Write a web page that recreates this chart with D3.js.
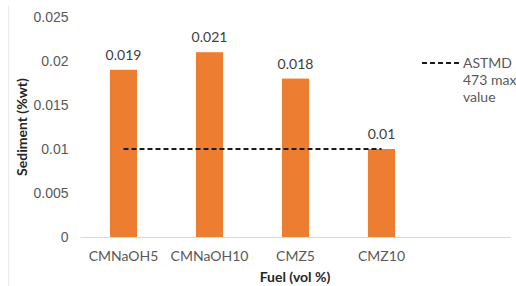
<!DOCTYPE html>
<html>
<head>
<meta charset="utf-8">
<script src="https://cdn.jsdelivr.net/npm/d3@7"></script>
<style>
body { margin: 0; background: #fff; }
svg { font-family: Lato, "Open Sans", sans-serif; }
</style>
</head>
<body>
<div id="chart"></div>
<script>
var categories = ["CMNaOH5", "CMNaOH10", "CMZ5", "CMZ10"];
var sediment = [0.019, 0.021, 0.018, 0.01];
var astmLimit = [0.01, 0.01, 0.01, 0.01];
var yTicks = [0, 0.005, 0.01, 0.015, 0.02, 0.025];

var width = 516, height = 286;
var plotLeft = 80.5, plotRight = 510.5, plotTop = 17, plotBottom = 237;
var fontSize = "14px";

var svg = d3.select("#chart").append("svg")
	.attr("width", width)
	.attr("height", height);

// faint chart border on the left
svg.append("line")
	.attr("x1", 8.5).attr("x2", 8.5)
	.attr("y1", 6).attr("y2", height)
	.attr("stroke", "#ececec");

// 5 slots on the category axis, last one is empty
var x = d3.scaleBand()
	.domain(categories.concat([""]))
	.range([plotLeft, plotRight])
	.paddingInner(0.685)
	.paddingOuter(0.3425);

var y = d3.scaleLinear().domain([0, 0.025]).range([plotBottom, plotTop]);

var yAxis = d3.axisLeft(y).tickValues(yTicks).tickSize(0).tickPadding(12)
	.tickFormat(function(d){ return d === 0 ? "0" : String(+d.toFixed(3)); });
var gy = svg.append("g").attr("transform", "translate(" + plotLeft + ",0)").call(yAxis);
gy.select(".domain").remove();
gy.selectAll("text").attr("fill", "#595959").style("font-size", fontSize).style("font-family", null);

svg.selectAll(".bar")
	.data(sediment)
	.enter().append("rect")
	.attr("class", "bar")
	.attr("x", function(d, i){ return x(categories[i]); })
	.attr("width", x.bandwidth())
	.attr("y", function(d){ return y(d); })
	.attr("height", function(d){ return plotBottom - y(d); })
	.attr("fill", "#ED7D31");

svg.selectAll(".val")
	.data(sediment)
	.enter().append("text")
	.attr("x", function(d, i){ return x(categories[i]) + x.bandwidth() / 2; })
	.attr("y", function(d){ return y(d) - 10; })
	.attr("text-anchor", "middle")
	.attr("fill", "#404040")
	.style("font-size", fontSize)
	.text(function(d){ return d; });

// category axis
svg.append("line")
	.attr("x1", plotLeft).attr("x2", plotRight)
	.attr("y1", plotBottom + 0.5).attr("y2", plotBottom + 0.5)
	.attr("stroke", "#d9d9d9");

svg.selectAll(".cat")
	.data(categories)
	.enter().append("text")
	.attr("x", function(d){ return x(d) + x.bandwidth() / 2; })
	.attr("y", 261)
	.attr("text-anchor", "middle")
	.attr("fill", "#595959")
	.style("font-size", fontSize)
	.text(function(d){ return d; });

// ASTM limit line
var line = d3.line()
	.x(function(d, i){ return x(categories[i]) + x.bandwidth() / 2; })
	.y(function(d){ return y(d); });

svg.append("path")
	.datum(astmLimit)
	.attr("d", line)
	.attr("fill", "none")
	.attr("stroke", "#1a1a1a")
	.attr("stroke-width", 2)
	.attr("stroke-dasharray", "5,3");

// legend
svg.append("line")
	.attr("x1", 422).attr("x2", 460)
	.attr("y1", 63).attr("y2", 63)
	.attr("stroke", "#1a1a1a")
	.attr("stroke-width", 2)
	.attr("stroke-dasharray", "5,3");

var legText = svg.append("text")
	.attr("x", 463).attr("y", 68)
	.attr("fill", "#595959")
	.style("font-size", fontSize);
["ASTMD", "473 max", "value"].forEach(function(t, i){
	legText.append("tspan").attr("x", 463).attr("dy", i === 0 ? 0 : 17).text(t);
});

// axis titles
svg.append("text")
	.attr("transform", "translate(27," + ((plotTop + plotBottom) / 2) + ") rotate(-90)")
	.attr("text-anchor", "middle")
	.attr("fill", "#262626")
	.style("font-size", fontSize)
	.style("font-weight", "bold")
	.text("Sediment (%wt)");

svg.append("text")
	.attr("x", 295).attr("y", 282)
	.attr("text-anchor", "middle")
	.attr("fill", "#262626")
	.style("font-size", fontSize)
	.style("font-weight", "bold")
	.text("Fuel (vol %)");
</script>
</body>
</html>
